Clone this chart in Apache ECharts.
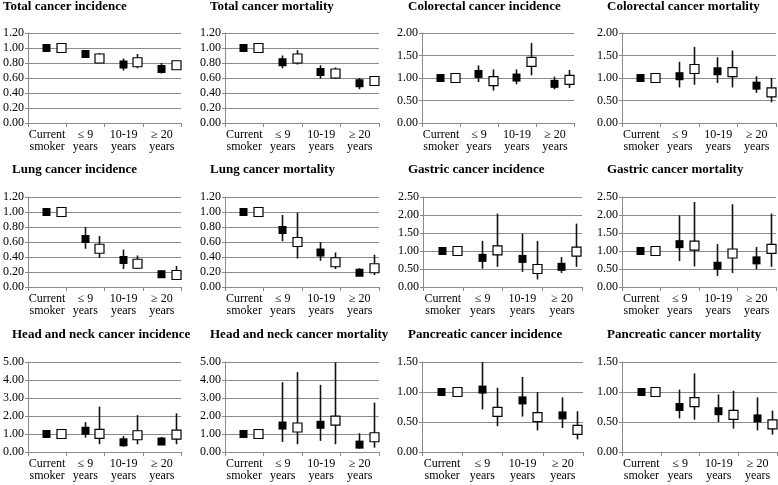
<!DOCTYPE html>
<html>
<head>
<meta charset="utf-8">
<script src="https://cdn.jsdelivr.net/npm/echarts@6/dist/echarts.min.js"></script>
<style>
  html, body { margin: 0; padding: 0; background: #fff; }
  #main { width: 778px; height: 485px; }
</style>
</head>
<body>
<div id="main"></div>
<script>
// categories on every x axis
var categories = ['Current\nsmoker', '\u2264 9\nyears', '10-19\nyears', '\u2265 20\nyears'];

var panelTitles = [
    'Total cancer incidence', 'Total cancer mortality',
    'Colorectal cancer incidence', 'Colorectal cancer mortality',
    'Lung cancer incidence', 'Lung cancer mortality',
    'Gastric cancer incidence', 'Gastric cancer mortality',
    'Head and neck cancer incidence', 'Head and neck cancer mortality',
    'Pancreatic cancer incidence', 'Pancreatic cancer mortality'
];

// y axis range and tick step of each panel
var yMax = [1.2, 1.2, 2, 2, 1.2, 1.2, 2.5, 2.5, 5, 5, 1.5, 1.5];
var yStep = [0.2, 0.2, 0.5, 0.5, 0.2, 0.2, 0.5, 0.5, 1, 1, 0.5, 0.5];

// [estimate, lower, upper] per category; filled = black squares, open = white squares
var totalIncFilled = [[1.00, 1.00, 1.00], [0.92, 0.88, 0.96], [0.78, 0.70, 0.86], [0.72, 0.66, 0.80]];
var totalIncOpen   = [[1.00, 1.00, 1.00], [0.86, 0.81, 0.93], [0.81, 0.73, 0.92], [0.77, 0.73, 0.83]];
var totalMorFilled = [[1.00, 1.00, 1.00], [0.81, 0.73, 0.90], [0.68, 0.59, 0.77], [0.53, 0.45, 0.60]];
var totalMorOpen   = [[1.00, 1.00, 1.00], [0.86, 0.78, 0.97], [0.66, 0.59, 0.74], [0.56, 0.50, 0.62]];
var colIncFilled   = [[1.00, 1.00, 1.00], [1.09, 0.91, 1.28], [1.01, 0.86, 1.19], [0.87, 0.75, 1.03]];
var colIncOpen     = [[1.00, 1.00, 1.00], [0.93, 0.72, 1.19], [1.36, 1.06, 1.78], [0.96, 0.78, 1.18]];
var colMorFilled   = [[1.00, 1.00, 1.00], [1.04, 0.79, 1.36], [1.15, 0.89, 1.46], [0.83, 0.67, 1.04]];
var colMorOpen     = [[1.00, 1.00, 1.00], [1.20, 0.85, 1.69], [1.13, 0.79, 1.61], [0.68, 0.46, 1.00]];
var lungIncFilled  = [[1.00, 1.00, 1.00], [0.64, 0.51, 0.80], [0.36, 0.24, 0.50], [0.17, 0.13, 0.22]];
var lungIncOpen    = [[1.00, 1.00, 1.00], [0.51, 0.39, 0.68], [0.31, 0.24, 0.42], [0.16, 0.11, 0.28]];
var lungMorFilled  = [[1.00, 1.00, 1.00], [0.76, 0.61, 0.96], [0.46, 0.35, 0.60], [0.19, 0.16, 0.25]];
var lungMorOpen    = [[1.00, 1.00, 1.00], [0.60, 0.38, 0.99], [0.33, 0.24, 0.46], [0.25, 0.16, 0.43]];
var gasIncFilled   = [[1.00, 1.00, 1.00], [0.81, 0.51, 1.28], [0.78, 0.42, 1.48], [0.56, 0.39, 0.83]];
var gasIncOpen     = [[1.00, 1.00, 1.00], [1.02, 0.56, 2.04], [0.50, 0.21, 1.28], [0.98, 0.56, 1.76]];
var gasMorFilled   = [[1.00, 1.00, 1.00], [1.19, 0.72, 1.99], [0.59, 0.31, 1.19], [0.74, 0.49, 1.11]];
var gasMorOpen     = [[1.00, 1.00, 1.00], [1.15, 0.57, 2.36], [0.93, 0.39, 2.30], [1.06, 0.56, 2.04]];
var hnIncFilled    = [[1.00, 1.00, 1.00], [1.18, 0.80, 1.66], [0.54, 0.30, 0.88], [0.58, 0.41, 0.84]];
var hnIncOpen      = [[1.00, 1.00, 1.00], [1.01, 0.43, 2.52], [0.93, 0.43, 2.05], [0.97, 0.43, 2.15]];
var hnMorFilled    = [[1.00, 1.00, 1.00], [1.47, 0.56, 3.88], [1.51, 0.62, 3.73], [0.41, 0.19, 1.04]];
var hnMorOpen      = [[1.00, 1.00, 1.00], [1.36, 0.43, 4.44], [1.74, 0.43, 4.98], [0.82, 0.24, 2.74]];
var panIncFilled   = [[1.00, 1.00, 1.00], [1.04, 0.71, 1.50], [0.86, 0.59, 1.25], [0.61, 0.40, 0.91]];
var panIncOpen     = [[1.00, 1.00, 1.00], [0.67, 0.43, 1.07], [0.58, 0.36, 1.00], [0.37, 0.21, 0.68]];
var panMorFilled   = [[1.00, 1.00, 1.00], [0.75, 0.56, 1.04], [0.68, 0.50, 0.96], [0.56, 0.36, 0.91]];
var panMorOpen     = [[1.00, 1.00, 1.00], [0.83, 0.54, 1.31], [0.62, 0.39, 1.02], [0.46, 0.29, 0.69]];

var filledSeries = [totalIncFilled, totalMorFilled, colIncFilled, colMorFilled, lungIncFilled, lungMorFilled,
    gasIncFilled, gasMorFilled, hnIncFilled, hnMorFilled, panIncFilled, panMorFilled];
var openSeries = [totalIncOpen, totalMorOpen, colIncOpen, colMorOpen, lungIncOpen, lungMorOpen,
    gasIncOpen, gasMorOpen, hnIncOpen, hnMorOpen, panIncOpen, panMorOpen];

// plot boxes [left, top, width], all 90 high
var boxes = [
    [28, 33, 153], [225, 33, 154], [422, 33, 152], [622, 33, 154],
    [24, 197, 157], [225, 197, 154], [423, 197, 159], [622, 197, 154],
    [22, 362, 159], [225, 362, 154], [422, 362, 161], [622, 362, 155]
];
var titlePos = [
    [3, 0], [210, 0], [408, 0], [607, 0],
    [12, 163], [210, 163], [408, 163], [607, 163],
    [12, 328], [210, 328], [408, 328], [607, 328]
];

var serif = '"Liberation Serif", "Times New Roman", serif';
var gridColor = '#8a8a8a';

function makeRender(pos, filled) {
    return function (params, api) {
        var c = api.value(0);
        var band = api.size([1, 0])[0];
        var x = Math.round(api.coord([c, 0])[0] - band / 2 + band * pos) + 0.5;
        var yEst = api.coord([c, api.value(1)])[1];
        var yLo = api.coord([c, api.value(2)])[1];
        var yHi = api.coord([c, api.value(3)])[1];
        var s = filled ? 8 : 9;
        return {
            type: 'group',
            children: [{
                type: 'line',
                shape: { x1: x, y1: yLo, x2: x, y2: yHi },
                style: { stroke: '#111', lineWidth: 1.6 }
            }, {
                type: 'rect',
                shape: { x: x - s / 2, y: yEst - s / 2, width: s, height: s },
                style: filled ? { fill: '#000' } : { fill: '#fff', stroke: '#000', lineWidth: 1.2 }
            }]
        };
    };
}

function toData(arr) {
    return arr.map(function (d, i) { return [i, d[0], d[1], d[2]]; });
}

var titles = [], grids = [], xAxes = [], yAxes = [], series = [];
for (var i = 0; i < 12; i++) {
    titles.push({
        text: panelTitles[i],
        left: titlePos[i][0],
        top: titlePos[i][1],
        padding: 0,
        textStyle: { fontFamily: serif, fontWeight: 'bold', fontSize: 13, color: '#000' }
    });
    grids.push({ left: boxes[i][0], top: boxes[i][1], width: boxes[i][2], height: 90 });
    xAxes.push({
        type: 'category',
        gridIndex: i,
        data: categories,
        boundaryGap: true,
        axisLine: { lineStyle: { color: gridColor } },
        axisTick: { show: true, length: 4, lineStyle: { color: gridColor } },
        axisLabel: { interval: 0, fontFamily: serif, fontSize: 12, lineHeight: 12, color: '#000', margin: 6 }
    });
    yAxes.push({
        type: 'value',
        gridIndex: i,
        min: 0,
        max: yMax[i],
        interval: yStep[i],
        axisLine: { show: true, lineStyle: { color: gridColor } },
        axisTick: { show: true, length: 3, lineStyle: { color: gridColor } },
        splitLine: { lineStyle: { color: gridColor } },
        axisLabel: {
            fontFamily: serif, fontSize: 12, color: '#000', margin: 4,
            formatter: function (v) { return v.toFixed(2); }
        }
    });
    series.push({
        type: 'custom', xAxisIndex: i, yAxisIndex: i,
        renderItem: makeRender(0.48, true),
        encode: { x: 0, y: 1 },
        data: toData(filledSeries[i]),
        z: 3
    });
    series.push({
        type: 'custom', xAxisIndex: i, yAxisIndex: i,
        renderItem: makeRender(0.86, false),
        encode: { x: 0, y: 1 },
        data: toData(openSeries[i]),
        z: 4
    });
}

var chart = echarts.init(document.getElementById('main'));
chart.setOption({
    animation: false,
    backgroundColor: '#fff',
    title: titles,
    grid: grids,
    xAxis: xAxes,
    yAxis: yAxes,
    series: series
});
</script>
</body>
</html>
